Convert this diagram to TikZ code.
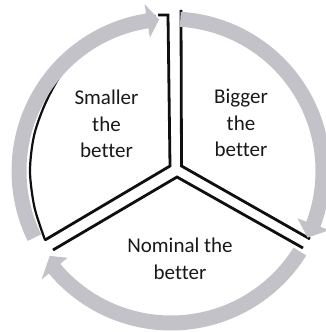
\documentclass[tikz,border=0pt]{standalone}
\usepackage{fontspec}
\setmainfont[Ligatures=NoCommon]{Carlito}
\usetikzlibrary{calc}
\definecolor{bandgrey}{RGB}{195,194,201}
\definecolor{inkblack}{RGB}{15,15,15}
\definecolor{textgrey}{RGB}{25,25,25}
\tikzset{
  sectorline/.style={draw=inkblack, line width=2.8pt, line join=miter, line cap=butt},
  band/.style={fill=bandgrey, draw=none},
  lbl/.style={align=center, text=textgrey, inner sep=0pt, font=\fontsize{21}{26.5}\selectfont}
}
\newcommand{\bandarrow}[4]{%
  % #1 start angle, #2 end of shaft, #3 tip angle, #4 tip radius
  \fill[band] (#1:159.5) arc[start angle=#1, end angle=#2, radius=159.5]
    -- (#2:169) -- (#3:#4) -- (#2:135) -- (#2:144.5)
    arc[start angle=#2, end angle=#1, radius=144.5] -- cycle;}
\begin{document}
\begin{tikzpicture}[x=1pt,y=1pt]
\useasboundingbox (0,0) rectangle (326,332);
\coordinate (O) at (171,161);
% sector outlines
\coordinate (l1) at (158,317);
\coordinate (l2) at (168,317);
\coordinate (l3) at (170,166);
\coordinate (l4) at (45,92);
\coordinate (r1) at (181,322);
\coordinate (r2) at (181.5,166);
\coordinate (r3) at (310,93);
\coordinate (b1) at (53,82);
\coordinate (b2) at (177,155);
\coordinate (b3) at (303,84);
\draw[sectorline] (l1) -- (l2) -- (l3) -- (l4);
\draw[sectorline] (r1) -- (r2) -- (r3);
\draw[sectorline] (b1) -- (b2) -- (b3);
\begin{scope}[shift={(O)}]
\draw[sectorline, line width=2.2pt, line cap=round] plot[smooth] coordinates {(208.7:143.6) (195:141.3) (180:141) (165:141.5) (150:143) (135:147) (115:152) (96:156)};
% grey circular arrows
\bandarrow{206}{99}{94.5}{152}
\bandarrow{86.5}{-20.5}{-26}{152}
\bandarrow{-32}{-140}{-145}{148}
\end{scope}
% labels
\node[lbl] (smaller) at (106.5,208) {Smaller\\the\\better};
\node[lbl] (bigger) at (241,209) {Bigger\\the\\better};
\node[lbl] (nominal) at (180,73) {Nominal the\\better};
\end{tikzpicture}
\end{document}
